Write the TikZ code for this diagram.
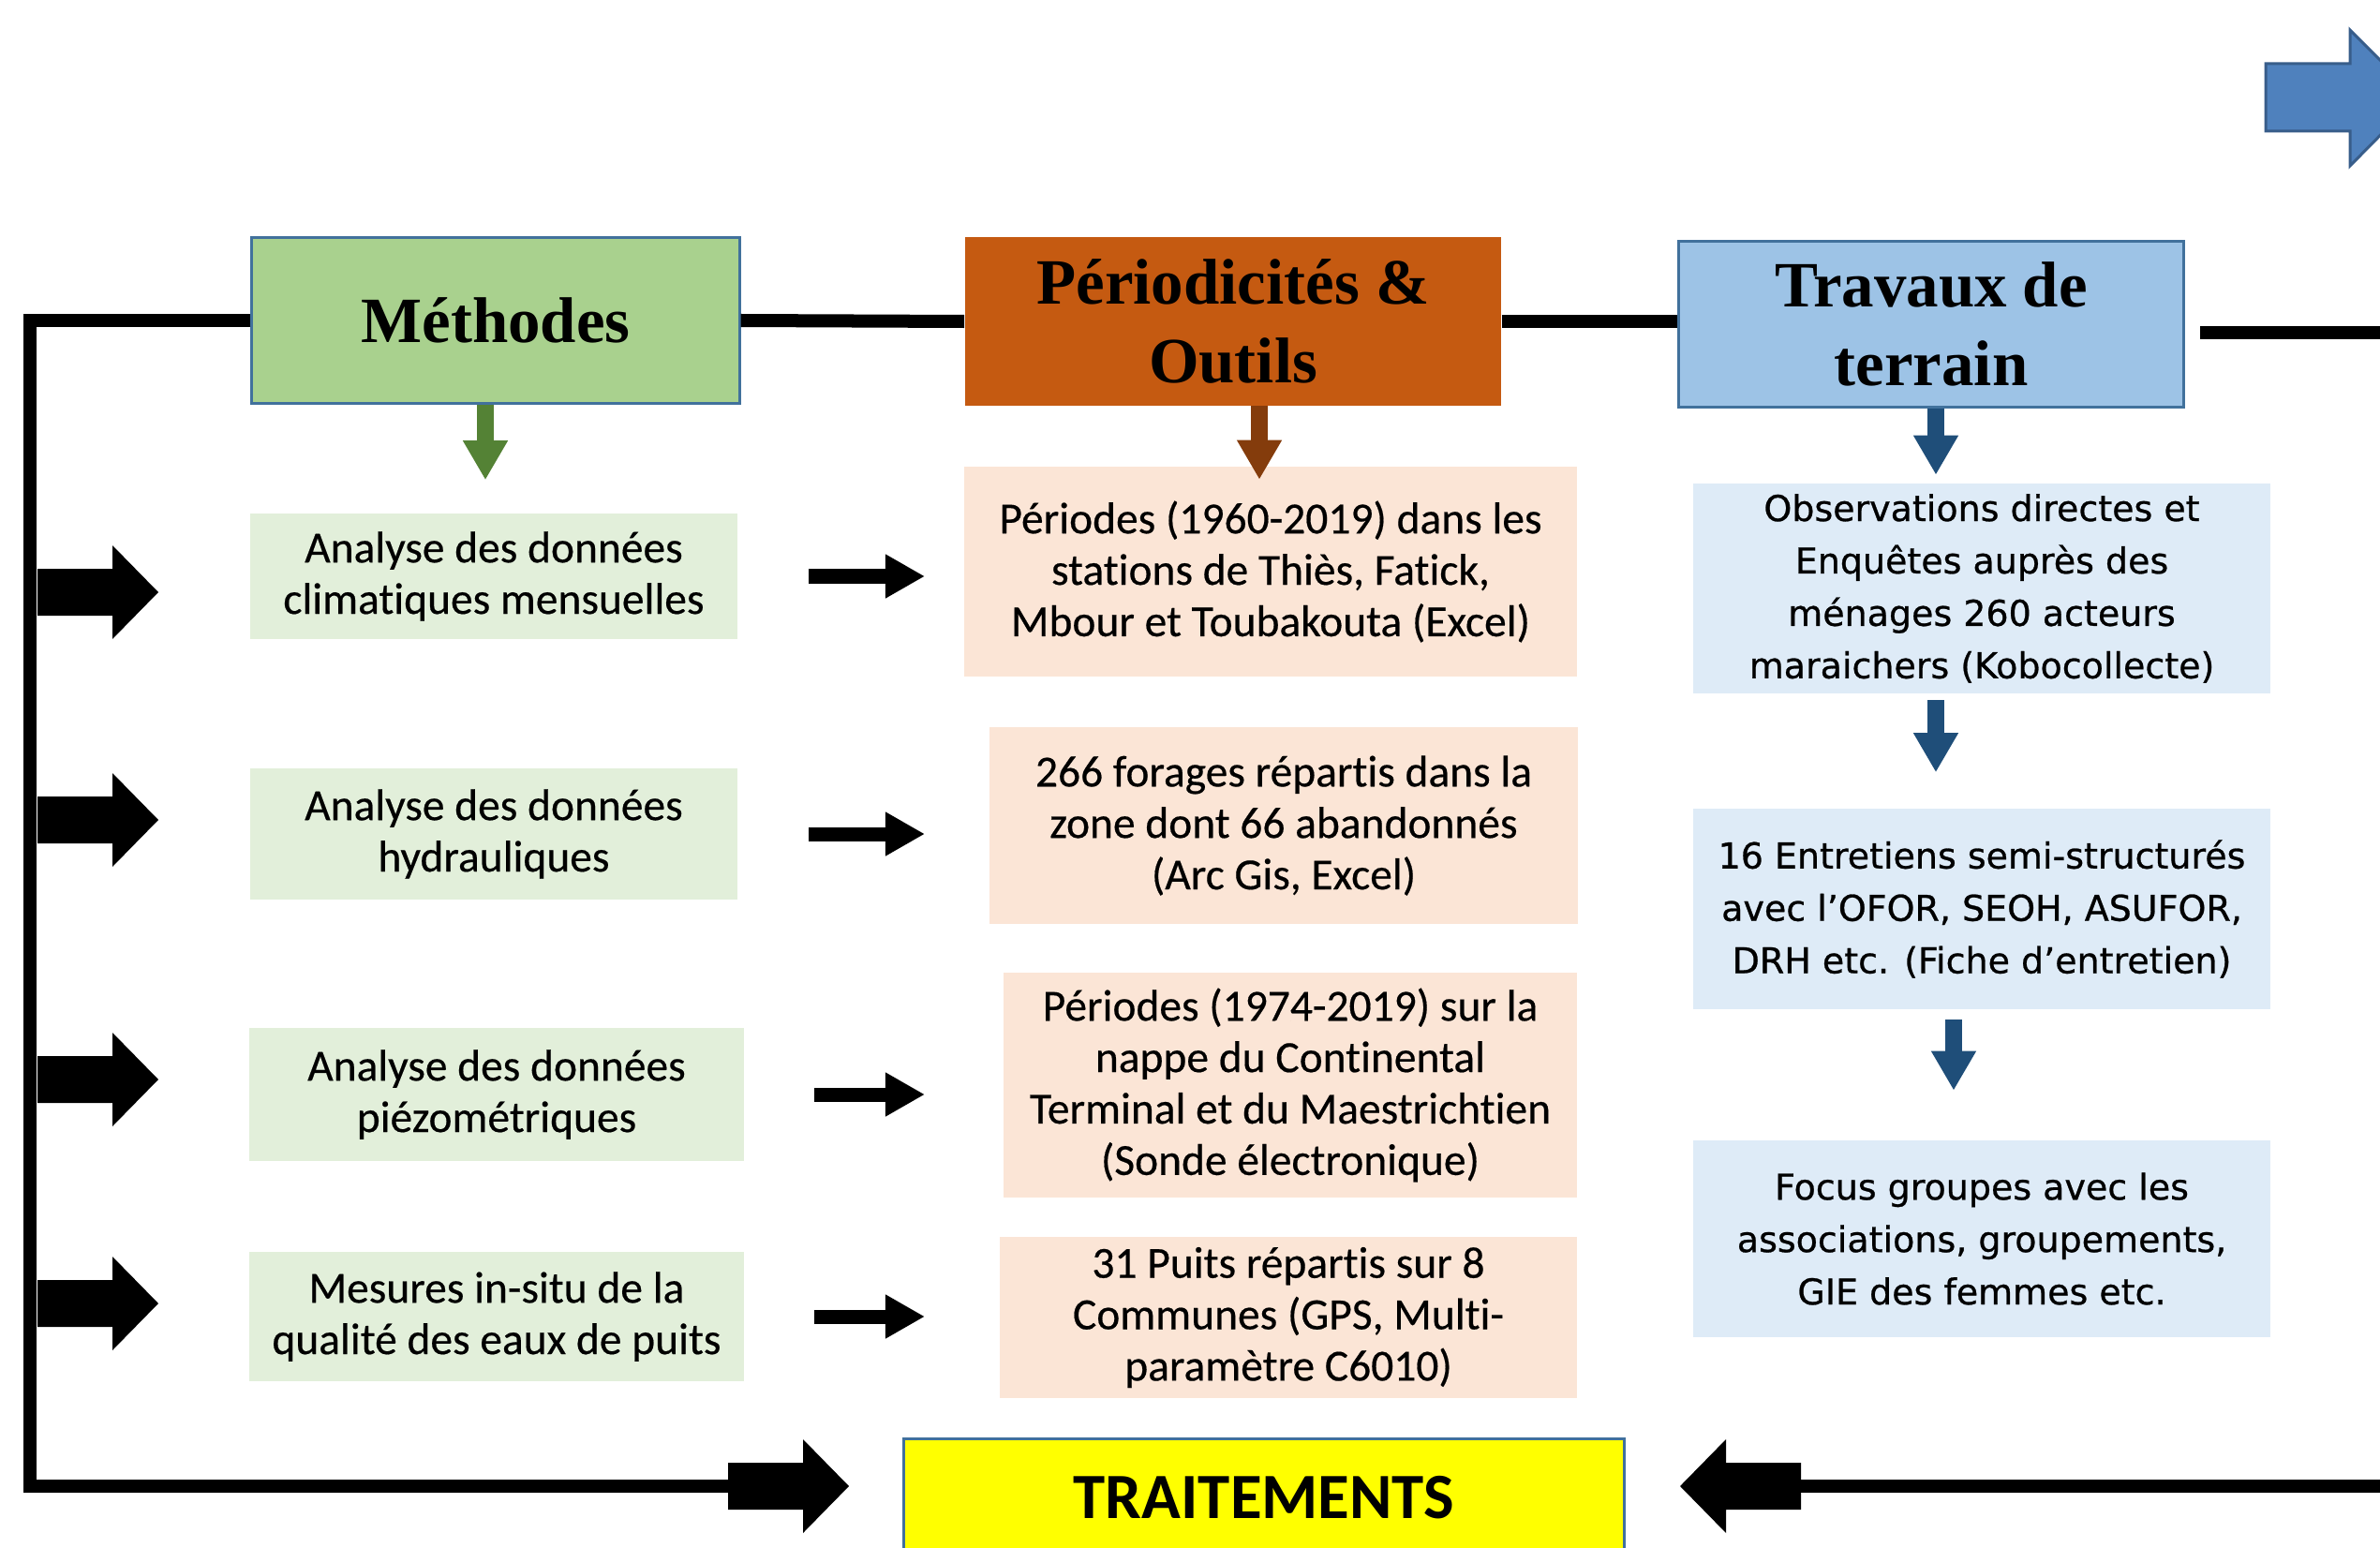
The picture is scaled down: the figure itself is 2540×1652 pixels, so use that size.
\documentclass[tikz,border=0pt]{standalone}
\usepackage{fontspec}
\setmainfont{Liberation Serif}
\newfontfamily\calibri[Ligatures=NoCommon, FakeBold=0.4]{Carlito}
\newfontfamily\calibribold[Ligatures=NoCommon]{Carlito Bold}
\newfontfamily\verdana[FakeBold=0.7]{DejaVu Sans}
\usetikzlibrary{arrows.meta}
\definecolor{methgreen}{HTML}{A9D18E}
\definecolor{periorange}{HTML}{C55A11}
\definecolor{travblue}{HTML}{9DC3E6}
\definecolor{edgeblue}{HTML}{41719C}
\definecolor{lgreen}{HTML}{E2EFDA}
\definecolor{lorange}{HTML}{FBE5D6}
\definecolor{lblue}{HTML}{DEEBF7}
\definecolor{trtyellow}{RGB}{255,255,0}
\definecolor{darkgreen}{HTML}{548235}
\definecolor{darkbrown}{HTML}{843C0C}
\definecolor{navy}{HTML}{1F4E79}
\definecolor{arrowblue}{HTML}{4F81BD}
\definecolor{arrowedge}{HTML}{385D8A}

\begin{document}
\begin{tikzpicture}[
      x=0.01cm, y=-0.01cm,
      every node/.style={rectangle, align=center, inner sep=0pt},
      title/.style={font=\bfseries\fontsize{19.6}{24}\selectfont},
      methbox/.style={fill=lgreen, font=\calibri\fontsize{13.5}{15.6}\selectfont},
      toolbox/.style={fill=lorange, font=\calibri\fontsize{13.5}{15.6}\selectfont},
      fieldbox/.style={fill=lblue, font=\verdana\fontsize{10.8}{15.9}\selectfont},
      frame/.style={line width=0.14cm, line join=miter},
      link/.style={line width=0.15cm, -{Triangle[length=0.42cm,width=0.44cm]}},
      down/.style={line width=0.18cm, -{Triangle[length=0.42cm,width=0.45cm]}},
      fatarrow/.pic={\fill (0,-25) -- (80,-25) -- (80,-50) -- (129,0) -- (80,50) -- (80,25) -- (0,25) -- cycle;}
      ]
      \useasboundingbox (0,0) rectangle (2540,1652);

      % the three column heads
      \node[title, fill=methgreen, draw=edgeblue, line width=0.03cm, minimum width=5.2cm, minimum height=1.77cm] (meth) at (529,342) {Méthodes};
      \node[title, fill=periorange, minimum width=5.72cm, minimum height=1.79cm] (peri) at (1316,343) {Périodicités \&\\Outils};
      \node[title, fill=travblue, draw=edgeblue, line width=0.03cm, minimum width=5.39cm, minimum height=1.76cm] (trav) at (2061,346) {Travaux de\\terrain};

      % left column: methods
      \node[methbox, minimum width=5.2cm, minimum height=1.34cm] (an1) at (527,615) {Analyse des données\\climatiques mensuelles};
      \node[methbox, minimum width=5.2cm, minimum height=1.39cm] (an2) at (527,890) {Analyse des données\\hydrauliques};
      \node[methbox, minimum width=5.27cm, minimum height=1.42cm] (an3) at (530,1168) {Analyse des données\\piézométriques};
      \node[methbox, minimum width=5.27cm, minimum height=1.38cm] (an4) at (530,1405) {Mesures in-situ de la\\qualité des eaux de puits};

      % middle column: periods and tools
      \node[toolbox, minimum width=6.53cm, minimum height=2.23cm] (ou1) at (1356,610) {Périodes (1960-2019) dans les\\stations de Thiès, Fatick,\\Mbour et Toubakouta (Excel)};
      \node[toolbox, minimum width=6.27cm, minimum height=2.10cm] (ou2) at (1370,881) {266 forages répartis dans la\\zone dont 66 abandonnés\\(Arc Gis, Excel)};
      \node[toolbox, minimum width=6.12cm, minimum height=2.40cm] (ou3) at (1377,1158) {Périodes (1974-2019) sur la\\nappe du Continental\\Terminal et du Maestrichtien\\(Sonde électronique)};
      \node[toolbox, minimum width=6.16cm, minimum height=1.71cm] (ou4) at (1375,1406) {31 Puits répartis sur 8\\Communes (GPS, Multi-\\paramètre C6010)};

      % right column: field work
      \node[fieldbox, minimum width=6.15cm, minimum height=2.23cm] (ob) at (2115,628) {Observations directes et\\Enquêtes auprès des\\ménages 260 acteurs\\maraichers (Kobocollecte)};
      \node[fieldbox, minimum width=6.15cm, minimum height=2.14cm] (en) at (2115,970) {16 Entretiens semi-structurés\\avec l’OFOR, SEOH, ASUFOR,\\DRH etc. (Fiche d’entretien)};
      \node[fieldbox, minimum width=6.15cm, minimum height=2.09cm] (fo) at (2115,1322) {Focus groupes avec les\\associations, groupements,\\GIE des femmes etc.};

      % processing box, cut by the lower edge
      \node[fill=trtyellow, draw=edgeblue, line width=0.03cm, minimum width=7.68cm, minimum height=1.24cm, font=\calibribold\fontsize{19.6}{24}\selectfont] (trt) at (1349,1598) {TRAITEMENTS};

      % the frame round the methods
      \coordinate (corner) at (32,1586);
      \coordinate (trin) at (777,1586);
      \coordinate (trout) at (1922,1586);
      \coordinate (rtop) at (2348,355);
      \coordinate (tipcol) at (987,0);
      \draw[frame] (meth.west) -| (corner) -- (trin);
      \draw[frame] (meth.east) -- (peri.west);
      \draw[frame] (peri.east) -- (peri.east -| trav.west);
      \draw[frame] (rtop) -- ++(220,0);
      \draw[frame] (trout) -- ++(640,0);

      % fat arrows off the frame
      \foreach \y in {632,875,1152,1391}
        \pic at (40,\y) {fatarrow};
      \pic at (trin) {fatarrow};
      \pic[rotate=180] at (trout) {fatarrow};

      % methods to tools
      \foreach \i in {1,...,4}
        \draw[link, shorten <=0.75cm] (an\i.east) -- (an\i.east -| tipcol);

      % down arrows under the heads
      \draw[down, color=darkgreen, shorten >=0.35cm] ([xshift=-0.11cm]meth.south) -- ([xshift=-0.11cm]meth.south |- an1.north);
      \draw[down, color=darkbrown, shorten >=-0.14cm] ([xshift=0.28cm]peri.south) -- ([xshift=0.28cm]peri.south |- ou1.north);
      \draw[down, color=navy, shorten >=0.09cm] ([xshift=0.05cm]trav.south) -- ([xshift=0.05cm]trav.south |- ob.north);
      \draw[down, color=navy, shorten <=0.07cm, shorten >=0.38cm] ([xshift=-0.49cm]ob.south) -- ([xshift=-0.49cm]en.north);
      \draw[down, color=navy, shorten <=0.10cm, shorten >=0.53cm] ([xshift=-0.30cm]en.south) -- ([xshift=-0.30cm]fo.north);

      % blue arrow in the top right corner
      \filldraw[fill=arrowblue, draw=arrowedge, line width=0.03cm] (2418,68) -- (2508,68) -- (2508,32) -- (2580,104) -- (2508,177) -- (2508,140) -- (2418,140) -- cycle;
    \end{tikzpicture}
\end{document}
